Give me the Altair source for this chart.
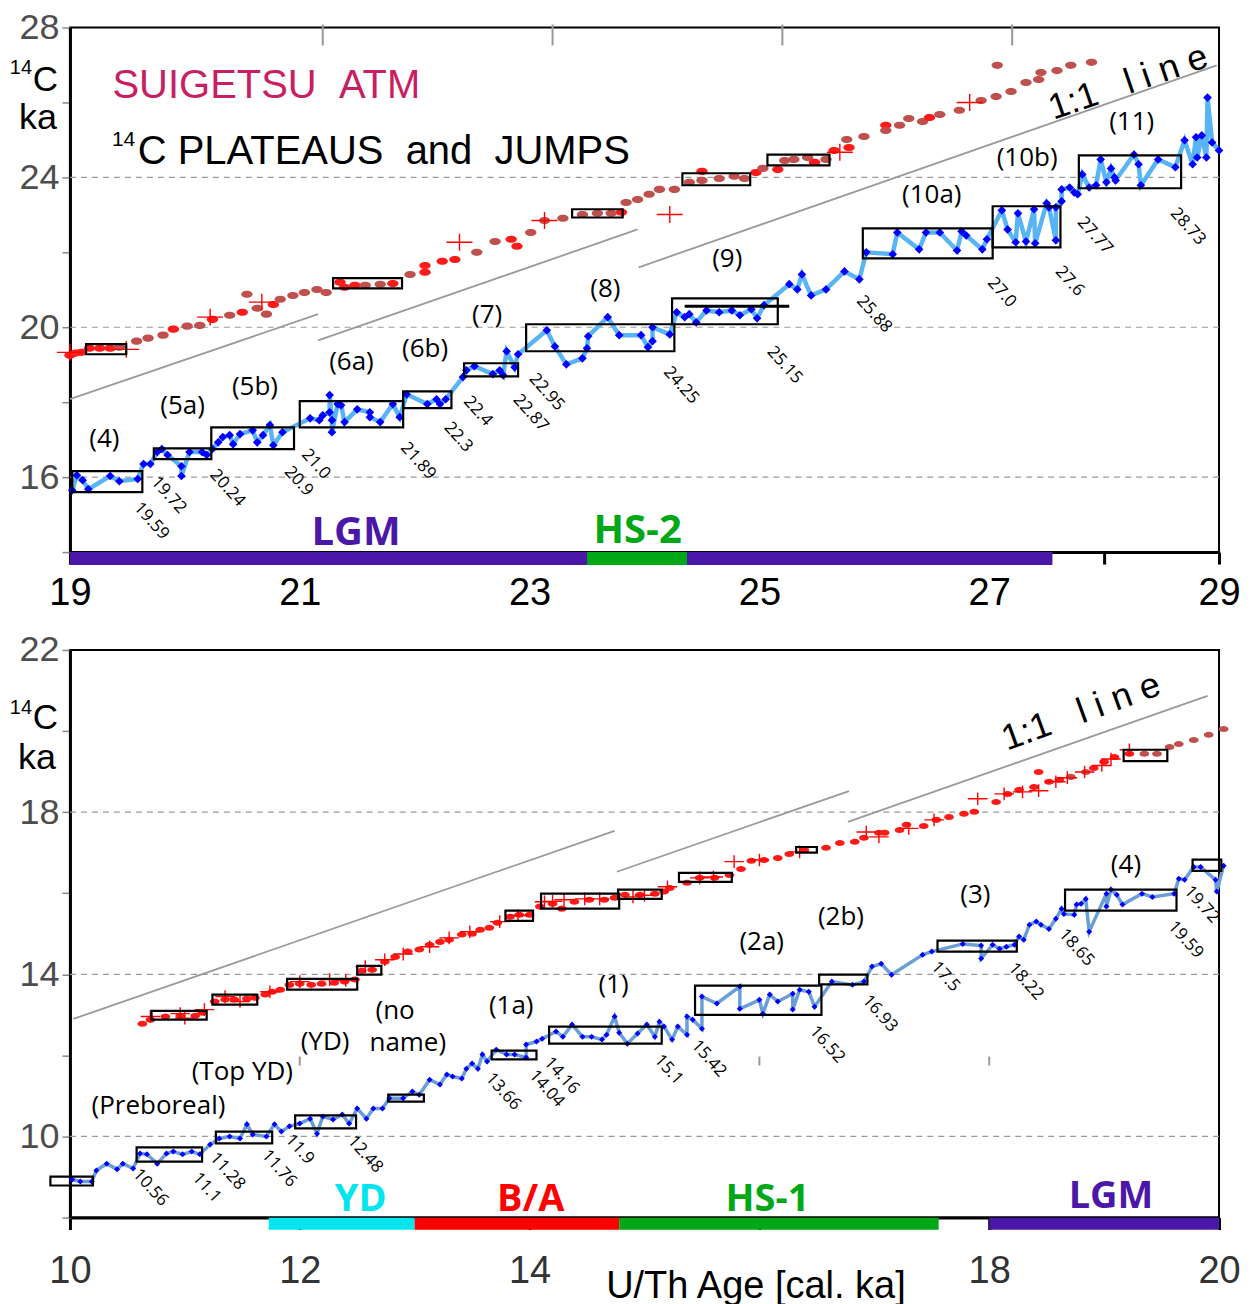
import altair as alt
import pandas as pd

SANS = "Liberation Sans"
OPEN = "Open Sans"
NB = "\u00a0"
RED = "#ff1a1a"
BROWN = "#c0504d"
PURPLE = "#4a17a8"
GREEN = "#00a817"

# ======================= TOP PANEL (19-29 cal ka) =======================
top_red_x = [19.00, 19.05, 19.10, 19.17, 19.26, 19.35, 19.43, 19.58, 19.68, 19.81,
             19.90, 20.02, 20.13, 20.24, 20.39, 20.50, 20.54, 20.63, 20.71, 20.77,
             20.83, 20.94, 21.04, 21.15, 21.23, 21.35, 21.39, 21.48, 21.57, 21.70,
             21.81, 21.96, 22.09, 22.09, 22.24, 22.35, 22.54, 22.70, 22.84, 22.89,
             23.01, 23.13, 23.29, 23.46, 23.59, 23.71, 23.80, 23.84, 23.94, 24.04,
             24.13, 24.26, 24.39, 24.50, 24.50, 24.65, 24.78, 24.87, 24.97, 25.03,
             25.16, 25.22, 25.30, 25.42, 25.48, 25.58, 25.65, 25.76, 25.78, 25.91,
             26.10, 26.10, 26.22, 26.30, 26.42, 26.48, 26.57, 26.74, 26.93, 27.06,
             27.07, 27.19, 27.32, 27.43, 27.45, 27.59, 27.71, 27.89]
top_red_y = [19.25, 19.31, 19.33, 19.44, 19.44, 19.44, 19.47, 19.63, 19.71, 19.79,
             19.95, 20.03, 20.05, 20.21, 20.32, 20.40, 20.88, 20.51, 20.35, 20.61,
             20.75, 20.85, 20.93, 21.01, 20.93, 21.20, 21.07, 21.12, 21.12, 21.15,
             21.17, 21.41, 21.65, 21.47, 21.76, 21.81, 22.00, 22.29, 22.35, 22.16,
             22.53, 22.85, 22.91, 23.01, 23.04, 23.04, 23.07, 23.33, 23.41, 23.55,
             23.68, 23.68, 23.87, 24.16, 23.92, 23.97, 24.03, 23.97, 24.13, 24.24,
             24.21, 24.45, 24.48, 24.53, 24.40, 24.48, 24.72, 25.01, 24.80, 25.09,
             25.39, 25.25, 25.39, 25.57, 25.49, 25.60, 25.68, 25.79, 26.05, 26.16,
             26.99, 26.29, 26.53, 26.61, 26.80, 26.85, 26.99, 27.07]
top_red_kind = list("rrrrrrbbbb" "rbbrbrbbbr" "bbbbbrrrbb" "rbrrrrbbrr" "bbbbbbrbbb"
                    "bbbrbbbbrb" "rbbbrbrbrb" "rbbbbrbbbb" "bbbbbbbb")

top_cross_x = [19.00, 19.49, 20.22, 20.67, 22.39, 23.13, 24.22, 25.70, 26.83]
top_cross_y = [19.33, 19.41, 20.27, 20.67, 22.27, 22.85, 23.01, 24.67, 26.00]

top_blue_x = [19.02, 19.06, 19.11, 19.16, 19.35, 19.43, 19.59, 19.64, 19.70, 19.76,
              19.80, 19.85, 19.97, 19.97, 20.04, 20.15, 20.19, 20.24, 20.29, 20.33,
              20.39, 20.42, 20.48, 20.59, 20.63, 20.68, 20.74, 20.77, 20.85, 21.09,
              21.17, 21.20, 21.26, 21.26, 21.28, 21.28, 21.33, 21.36, 21.39, 21.50,
              21.61, 21.61, 21.70, 21.81, 21.87, 21.93, 22.11, 22.19, 22.22, 22.27,
              22.42, 22.45, 22.52, 22.68, 22.74, 22.77, 22.80, 22.87, 22.90, 23.15,
              23.22, 23.32, 23.46, 23.50, 23.51, 23.68, 23.78, 23.97, 24.03, 24.07,
              24.07, 24.22, 24.28, 24.35, 24.39, 24.45, 24.54, 24.65, 24.76, 24.83,
              24.93, 24.98, 25.04, 25.26, 25.33, 25.37, 25.45, 25.58, 25.74, 25.87,
              25.93, 26.16, 26.20, 26.39, 26.45, 26.57, 26.72, 26.76, 26.80, 26.94,
              26.98, 27.11, 27.16, 27.23, 27.25, 27.32, 27.39, 27.40, 27.50, 27.52,
              27.58, 27.58, 27.63, 27.63, 27.70, 27.74, 27.77, 27.81, 27.87, 27.93,
              27.97, 28.02, 28.06, 28.09, 28.10, 28.26, 28.30, 28.32, 28.47, 28.62,
              28.70, 28.77, 28.80, 28.81, 28.85, 28.89, 28.90, 28.94, 29.00]
top_blue_y = [15.65, 16.05, 15.92, 15.68, 16.03, 15.89, 15.95, 16.35, 16.35, 16.67,
              16.75, 16.59, 16.29, 16.03, 16.67, 16.67, 16.59, 16.75, 16.93, 17.07,
              17.12, 16.88, 17.15, 17.25, 16.93, 17.12, 17.39, 16.85, 17.20, 17.57,
              17.52, 17.65, 17.73, 18.19, 17.52, 17.20, 17.95, 17.92, 17.47, 17.81,
              17.73, 17.60, 17.47, 17.95, 17.60, 18.21, 17.95, 18.08, 17.95, 18.08,
              18.67, 18.85, 18.96, 18.75, 18.85, 18.72, 19.36, 18.93, 19.28, 19.92,
              19.49, 19.01, 19.17, 19.44, 19.76, 20.27, 19.79, 19.79, 19.47, 19.63,
              20.00, 19.81, 20.40, 20.27, 20.35, 20.13, 20.45, 20.40, 20.45, 20.32,
              20.48, 20.24, 20.59, 21.15, 21.01, 21.41, 20.85, 21.01, 21.49, 21.28,
              22.00, 21.95, 22.53, 22.08, 22.53, 22.53, 22.05, 22.56, 22.45, 22.08,
              22.35, 23.12, 22.61, 22.27, 23.04, 22.29, 23.15, 22.24, 23.31, 23.20,
              22.32, 23.20, 23.36, 23.68, 23.73, 23.60, 23.55, 24.08, 23.73, 23.79,
              24.48, 23.87, 24.24, 24.00, 23.92, 24.61, 24.35, 23.79, 24.48, 24.27,
              24.99, 24.35, 25.07, 24.53, 25.12, 24.53, 26.13, 24.93, 24.72]

top_box_x1 = [19.14, 21.29, 23.37, 24.33, 25.07,
              19.02, 19.73, 20.23, 21.00, 21.90, 22.43, 22.97, 24.24, 25.90, 27.03, 27.78]
top_box_x2 = [19.49, 21.89, 23.81, 24.92, 25.61,
              19.63, 20.23, 20.95, 21.90, 22.32, 22.90, 24.26, 25.16, 27.03, 27.62, 28.67]
top_box_y1 = [19.28, 21.04, 22.93, 23.79, 24.32,
              15.60, 16.48, 16.75, 17.33, 17.84, 18.69, 19.36, 20.08, 21.84, 22.13, 23.71]
top_box_y2 = [19.55, 21.31, 23.15, 24.11, 24.61,
              16.16, 16.77, 17.33, 18.03, 18.29, 19.04, 20.08, 20.77, 22.64, 23.23, 24.59]

top_bar_x1 = [24.35]
top_bar_x2 = [25.26]
top_bar_y = [20.56]

top_plateau_text = ["(4)", "(5a)", "(5b)", "(6a)", "(6b)", "(7)", "(8)", "(9)", "(10a)", "(10b)", "(11)"]
top_plateau_x = [19.30, 19.98, 20.61, 21.45, 22.09, 22.63, 23.66, 24.72, 26.50, 27.33, 28.24]
top_plateau_y = [17.01, 17.89, 18.40, 19.07, 19.41, 20.32, 21.01, 21.81, 23.52, 24.53, 25.47]

top_num_text = ["19.59", "19.72", "20.24", "20.9", "21.0", "21.89", "22.3", "22.4", "22.87",
                "22.95", "24.25", "25.15", "25.88", "27.0", "27.6", "27.77", "28.73"]
top_num_x = [19.71, 19.86, 20.37, 20.99, 21.14, 22.03, 22.38, 22.55, 23.01,
             23.15, 24.32, 25.22, 26.00, 27.11, 27.70, 27.92, 28.73]
top_num_y = [14.83, 15.52, 15.71, 15.89, 16.35, 16.43, 17.07, 17.76, 17.71,
             18.27, 18.45, 18.99, 20.35, 20.93, 21.23, 22.45, 22.69]

top_period_name = ["LGM", "HS-2"]
top_period_x1 = [19.00, 23.50]
top_period_x2 = [27.55, 24.37]
top_period_color = [PURPLE, GREEN]
top_period_label_x = [21.49, 23.94]
top_period_label_y = [14.20, 14.24]

top_line_x1 = [19.00, 21.16, 23.95]
top_line_y1 = [18.08, 19.65, 21.60]
top_line_x2 = [21.16, 23.94, 28.98]
top_line_y2 = [20.35, 22.61, 26.99]

top_grid = [16, 20, 24]
top_minor_x = [21.2, 23.2, 25.2, 27.2]

# ======================= BOTTOM PANEL (10-20 cal ka) =======================
bot_red_x = [10.63, 10.70, 10.83, 10.96, 11.09, 11.15, 11.26, 11.35, 11.43, 11.54,
             11.61, 11.70, 11.76, 11.83, 11.91, 12.00, 12.10, 12.19, 12.30, 12.39,
             12.48, 12.54, 12.63, 12.74, 12.83, 12.94, 13.04, 13.13, 13.22, 13.30,
             13.41, 13.50, 13.57, 13.65, 13.72, 13.83, 13.91, 14.00, 14.09, 14.20,
             14.28, 14.39, 14.52, 14.65, 14.74, 14.83, 14.96, 15.09, 15.17, 15.22,
             15.37, 15.48, 15.61, 15.74, 15.84, 15.93, 16.04, 16.16, 16.26, 16.39,
             16.58, 16.70, 16.83, 16.91, 17.04, 17.09, 17.22, 17.28, 17.43, 17.54,
             17.65, 17.78, 17.87, 18.06, 18.16, 18.26, 18.39, 18.43, 18.52, 18.61,
             18.71, 18.84, 18.91, 19.00, 19.09, 19.22, 19.35, 19.46, 19.57, 19.65,
             19.78, 19.91, 20.04]
bot_red_y = [12.78, 12.88, 12.96, 12.98, 12.98, 13.05, 13.33, 13.38, 13.38, 13.40,
             13.42, 13.50, 13.57, 13.62, 13.74, 13.77, 13.74, 13.77, 13.79, 13.82,
             13.87, 14.09, 14.11, 14.31, 14.43, 14.56, 14.61, 14.73, 14.80, 14.85,
             14.98, 15.00, 15.10, 15.15, 15.27, 15.42, 15.47, 15.47, 15.67, 15.74,
             15.62, 15.79, 15.84, 15.84, 15.89, 15.96, 15.96, 15.99, 16.04, 16.13,
             16.26, 16.38, 16.38, 16.45, 16.60, 16.80, 16.82, 16.87, 16.97, 17.07,
             17.12, 17.24, 17.27, 17.37, 17.49, 17.49, 17.56, 17.69, 17.66, 17.81,
             17.88, 17.96, 18.01, 18.25, 18.45, 18.55, 18.62, 18.99, 18.75, 18.80,
             18.87, 18.99, 19.09, 19.24, 19.36, 19.44, 19.44, 19.44, 19.61, 19.68,
             19.78, 19.91, 20.05]
bot_red_kind = list("r" * 80 + "bbrrrr" + "bbbbbbb")

bot_cross_x = [10.70, 10.96, 11.00, 11.17, 11.35, 11.48, 11.74, 12.00, 12.26, 12.40,
               12.57, 12.74, 12.90, 13.13, 13.30, 13.48, 13.74, 13.90, 14.13, 14.20,
               14.30, 14.48, 14.61, 14.90, 15.00, 15.20, 15.48, 15.60, 15.78, 16.00,
               16.35, 16.93, 17.04, 17.30, 17.52, 17.90, 18.13, 18.29, 18.43, 18.58,
               18.68, 18.83, 18.98, 19.06, 19.22]
bot_cross_y = [12.96, 13.03, 12.92, 13.13, 13.45, 13.33, 13.57, 13.82, 13.87, 13.85,
               14.19, 14.36, 14.50, 14.68, 14.90, 15.05, 15.30, 15.45, 15.79, 15.80,
               15.84, 15.86, 15.86, 15.91, 15.95, 16.16, 16.38, 16.40, 16.78, 16.82,
               17.02, 17.51, 17.39, 17.60, 17.81, 18.33, 18.45, 18.50, 18.53, 18.75,
               18.85, 18.99, 19.15, 19.31, 19.54]

bot_blue_x = [10.02, 10.09, 10.19, 10.23, 10.32, 10.41, 10.46, 10.55, 10.61, 10.67,
              10.76, 10.84, 10.90, 10.98, 11.06, 11.13, 11.22, 11.30, 11.39, 11.48,
              11.54, 11.59, 11.71, 11.78, 11.84, 11.91, 12.00, 12.09, 12.15, 12.20,
              12.29, 12.37, 12.43, 12.50, 12.58, 12.64, 12.72, 12.78, 12.90, 12.98,
              13.04, 13.13, 13.22, 13.28, 13.33, 13.41, 13.45, 13.50, 13.55, 13.59,
              13.63, 13.71, 13.80, 13.87, 13.97, 13.97, 14.06, 14.11, 14.23, 14.29,
              14.37, 14.46, 14.54, 14.63, 14.67, 14.74, 14.78, 14.85, 14.94, 15.02,
              15.09, 15.13, 15.17, 15.24, 15.29, 15.37, 15.37, 15.42, 15.50, 15.50,
              15.63, 15.83, 15.83, 16.00, 16.03, 16.09, 16.16, 16.29, 16.29, 16.35,
              16.43, 16.48, 16.63, 16.81, 16.91, 16.98, 17.06, 17.15, 17.42, 17.50,
              17.77, 17.93, 17.93, 18.03, 18.09, 18.15, 18.22, 18.26, 18.30, 18.35,
              18.41, 18.45, 18.52, 18.58, 18.63, 18.65, 18.74, 18.76, 18.80, 18.84,
              18.87, 19.02, 19.02, 19.06, 19.11, 19.16, 19.33, 19.42, 19.61, 19.65,
              19.70, 19.78, 19.84, 19.97, 19.98, 20.04]
bot_blue_y = [8.94, 8.89, 8.89, 9.16, 9.33, 9.19, 9.33, 9.21, 9.58, 9.56,
              9.33, 9.58, 9.63, 9.56, 9.63, 9.56, 9.80, 9.95, 10.00, 9.95,
              10.30, 10.05, 10.00, 10.30, 10.12, 10.25, 10.32, 10.44, 10.07, 10.49,
              10.42, 10.54, 10.32, 10.69, 10.44, 10.69, 10.69, 10.94, 10.94, 11.11,
              11.03, 11.40, 11.28, 11.53, 11.48, 11.43, 11.67, 11.80, 11.67, 12.02,
              11.85, 12.14, 12.02, 12.02, 11.95, 12.27, 12.34, 12.41, 12.59, 12.46,
              12.76, 12.46, 12.46, 12.39, 12.51, 12.96, 12.56, 12.29, 12.54, 12.76,
              12.46, 12.83, 12.71, 12.39, 12.71, 12.51, 12.96, 12.88, 12.66, 13.45,
              13.28, 13.70, 13.15, 13.37, 13.03, 13.50, 13.33, 13.52, 13.13, 13.62,
              13.57, 13.20, 13.82, 13.74, 13.82, 14.19, 14.26, 13.99, 14.48, 14.56,
              14.75, 14.71, 14.39, 14.73, 14.63, 14.68, 14.73, 14.93, 14.85, 15.22,
              15.30, 15.22, 15.12, 15.37, 15.62, 15.49, 15.47, 15.72, 15.74, 15.86,
              15.05, 15.99, 15.67, 16.09, 15.96, 15.72, 15.99, 15.91, 15.99, 16.36,
              16.33, 16.65, 16.65, 16.33, 16.04, 16.68]

bot_box_x1 = [10.71, 11.24, 11.89, 12.50, 13.79, 14.10, 14.77, 15.30, 16.32, 19.17,
              9.83, 10.58, 11.27, 11.96, 12.77, 13.67, 14.17, 15.44, 16.52, 17.55, 18.66, 19.77]
bot_box_x2 = [11.19, 11.63, 12.50, 12.71, 14.03, 14.78, 15.15, 15.76, 16.50, 19.55,
              10.20, 11.15, 11.76, 12.49, 13.08, 14.06, 15.15, 16.54, 16.94, 18.24, 19.63, 20.02]
bot_box_y1 = [12.88, 13.25, 13.62, 13.99, 15.32, 15.62, 15.86, 16.28, 17.00, 19.26,
              8.79, 9.38, 9.83, 10.20, 10.86, 11.90, 12.29, 13.00, 13.75, 14.56, 15.57, 16.55]
bot_box_y2 = [13.10, 13.50, 13.89, 14.21, 15.57, 15.99, 16.09, 16.50, 17.14, 19.54,
              9.01, 9.73, 10.12, 10.52, 11.03, 12.12, 12.71, 13.72, 13.99, 14.83, 16.09, 16.83]

bot_plateau_text = ["(Preboreal)", "(Top YD)", "(YD)", "(no", "name)", "(1a)", "(1)",
                    "(2a)", "(2b)", "(3)", "(4)"]
bot_plateau_x = [10.77, 11.50, 12.22, 12.83, 12.94, 13.84, 14.73, 16.02, 16.71, 17.88, 19.19]
bot_plateau_y = [10.75, 11.59, 12.34, 13.10, 12.30, 13.21, 13.74, 14.80, 15.42, 15.96, 16.70]

bot_num_text = ["10.56", "11.1", "11.28", "11.76", "11.9", "12.48", "13.66", "14.04", "14.16",
                "15.1", "15.42", "16.52", "16.93", "17.5", "18.22", "18.65", "19.59", "19.72"]
bot_num_x = [10.70, 11.19, 11.37, 11.82, 12.00, 12.57, 13.77, 14.15, 14.28,
             15.21, 15.56, 16.59, 17.05, 17.62, 18.32, 18.76, 19.71, 19.85]
bot_num_y = [8.74, 8.74, 9.14, 9.21, 9.68, 9.56, 11.11, 11.18, 11.50,
             11.65, 11.92, 12.27, 13.03, 13.94, 13.82, 14.66, 14.85, 15.72]

bot_period_name = ["YD", "B/A", "HS-1", "LGM"]
bot_period_x1 = [11.73, 13.00, 14.78, 18.00]
bot_period_x2 = [13.00, 14.78, 17.56, 20.00]
bot_period_color = ["#00e5ee", "#ff0000", GREEN, PURPLE]
bot_period_label_x = [12.53, 14.01, 16.07, 19.06]
bot_period_label_y = [8.17, 8.17, 8.17, 8.24]

bot_line_x1 = [10.03, 14.76, 16.77]
bot_line_y1 = [12.90, 16.53, 17.76]
bot_line_x2 = [14.74, 16.78, 19.90]
bot_line_y2 = [17.54, 18.52, 20.87]

bot_grid = [10, 14, 18]
bot_minor_x = [12.0, 16.0, 18.0]

ELLIPSE = "M-1,0A1,0.62,0,1,1,1,0A1,0.62,0,1,1,-1,0Z"
PLUS = "M-1,0L1,0M0,-0.65L0,0.65"


def frame(**cols):
    n = min(len(v) for v in cols.values())
    return pd.DataFrame({k: list(v)[:n] for k, v in cols.items()})


def build_panel(p):
    xs = alt.Scale(domain=p["xdom"], nice=False, zero=False)
    ys = alt.Scale(domain=p["ydom"], nice=False, zero=False)
    xax = alt.Axis(values=p["xticks"], labelExpr=p["xexpr"], format="d", title=None, grid=False,
                   labelFontSize=38, labelFont=SANS, labelColor=p["xlabcolor"], labelFlush=False,
                   labelPadding=p["xlabpad"], labelOverlap=False, tickSize=12, tickWidth=3,
                   tickColor="black", domainColor="black", domainWidth=3)
    yax = alt.Axis(values=p["yticks"], labelExpr=p["yexpr"], format="d", title=None, grid=False,
                   labelFontSize=36, labelFont=SANS, labelColor="#4d4d4d", labelPadding=3,
                   labelOverlap=False, tickSize=8, tickWidth=1.5, tickColor="#888888",
                   domainColor="black", domainWidth=3)

    def X(f):
        return alt.X(f"{f}:Q", scale=xs, axis=xax)

    def Y(f):
        return alt.Y(f"{f}:Q", scale=ys, axis=yax)

    L = []
    L.append(alt.Chart(frame(y=p["grid"])).mark_rule(color="#9a9a9a", strokeDash=[6, 5], strokeWidth=1.2)
             .encode(y=Y("y")))
    L.append(alt.Chart(frame(x=p["minor_x"], y=[p["minor_y"][0]] * len(p["minor_x"]),
                             y2=[p["minor_y"][1]] * len(p["minor_x"])))
             .mark_rule(color="#999999", strokeWidth=2)
             .encode(x=X("x"), y=Y("y"), y2="y2"))
    L.append(alt.Chart(frame(x1=p["lx1"], y1=p["ly1"], x2=p["lx2"], y2=p["ly2"]))
             .mark_rule(color="#9a9a9a", strokeWidth=1.8)
             .encode(x=X("x1"), y=Y("y1"), x2="x2", y2="y2"))
    L.append(alt.Chart(frame(x=p["red_x"], y=p["red_y"], k=p["red_k"]))
             .mark_point(shape=ELLIPSE, filled=True, size=p["red_size"], opacity=1, strokeWidth=0)
             .encode(x=X("x"), y=Y("y"),
                     color=alt.Color("k:N", scale=alt.Scale(domain=["r", "b"], range=[RED, BROWN]),
                                     legend=None)))
    L.append(alt.Chart(frame(x=p["cross_x"], y=p["cross_y"]))
             .mark_point(shape=PLUS, filled=False, size=p["cross_size"], opacity=1,
                         strokeWidth=1.4, color="#ff0000")
             .encode(x=X("x"), y=Y("y")))
    L.append(alt.Chart(frame(x=p["blue_x"], y=p["blue_y"], i=list(range(len(p["blue_x"])))))
             .mark_line(color=p["line_color"], strokeWidth=p["line_width"])
             .encode(x=X("x"), y=Y("y"), order=alt.Order("i:Q")))
    L.append(alt.Chart(frame(x=p["blue_x"], y=p["blue_y"]))
             .mark_point(shape="diamond", filled=True, size=p["dia_size"], opacity=1, color="#0000ff")
             .encode(x=X("x"), y=Y("y")))
    L.append(alt.Chart(frame(x1=p["bx1"], x2=p["bx2"], y1=p["by1"], y2=p["by2"]))
             .mark_rect(fillOpacity=0, stroke="black", strokeWidth=2.2)
             .encode(x=X("x1"), x2="x2", y=Y("y1"), y2="y2"))
    if p.get("bar_x1"):
        L.append(alt.Chart(frame(x1=p["bar_x1"], x2=p["bar_x2"], y=p["bar_y"]))
                 .mark_rule(color="black", strokeWidth=3)
                 .encode(x=X("x1"), x2="x2", y=Y("y")))
    L.append(alt.Chart(frame(x1=p["per_x1"], x2=p["per_x2"], c=p["per_c"],
                             y=[p["per_y"]] * len(p["per_x1"])))
             .mark_rule(strokeWidth=p["per_w"], strokeCap="butt")
             .encode(x=X("x1"), x2="x2", y=Y("y"), color=alt.Color("c:N", scale=None)))
    # texts
    L.append(alt.Chart(frame(x=p["pl_x"], y=p["pl_y"], t=p["pl_t"]))
             .mark_text(font=OPEN, fontSize=26, color="black", align="center", baseline="middle")
             .encode(x=X("x"), y=Y("y"), text="t:N"))
    L.append(alt.Chart(frame(x=p["nm_x"], y=p["nm_y"], t=p["nm_t"]))
             .mark_text(font=OPEN, fontSize=17, color="black", align="center", baseline="middle",
                        angle=48)
             .encode(x=X("x"), y=Y("y"), text="t:N"))
    L.append(alt.Chart(frame(x=p["per_lx"], y=p["per_ly"], t=p["per_n"], c=p["per_c"]))
             .mark_text(font=OPEN, fontWeight="bold", fontSize=p["per_fs"], align="center",
                        baseline="alphabetic")
             .encode(x=X("x"), y=Y("y"), text="t:N", color=alt.Color("c:N", scale=None)))
    for t in p["texts"]:
        kw = dict(font=t.get("font", SANS), fontSize=t["fs"], color=t.get("color", "black"),
                  align=t.get("align", "left"), baseline=t.get("baseline", "alphabetic"))
        if "angle" in t:
            kw["angle"] = t["angle"]
        L.append(alt.Chart(frame(x=[t["x"]], y=[t["y"]], t=[t["t"]]))
                 .mark_text(**kw)
                 .encode(x=X("x"), y=Y("y"), text="t:N"))
    return alt.layer(*L).properties(width=1150, height=p["h"])


top_texts = [
    dict(t="SUIGETSU" + NB + NB + "ATM", x=19.37, y=26.13, fs=40, color="#c81e64"),
    dict(t="14", x=19.365, y=24.85, fs=21),
    dict(t="C PLATEAUS" + NB + NB + "and" + NB + NB + "JUMPS", x=19.59, y=24.35, fs=40),
    dict(t="14", x=18.67, y=26.75, fs=20, align="right"),
    dict(t="C", x=18.896, y=26.31, fs=35, align="right"),
    dict(t="ka", x=18.887, y=25.30, fs=36, align="right"),
    dict(t="1:1" + NB * 3 + "l" + NB + "i" + NB + "n" + NB + "e", x=28.21, y=26.53, fs=36,
         align="center", baseline="middle", angle=341),
]

bot_texts = [
    dict(t="14", x=9.670, y=20.42, fs=20, align="right"),
    dict(t="C", x=9.896, y=20.05, fs=35, align="right"),
    dict(t="ka", x=9.878, y=19.07, fs=36, align="right"),
    dict(t="1:1" + NB * 3 + "l" + NB + "i" + NB + "n" + NB + "e", x=18.80, y=20.47, fs=36,
         align="center", baseline="middle", angle=340),
    dict(t="U/Th Age [cal. ka]", x=15.97, y=6.02, fs=38, align="center"),
]

top_spec = dict(
    xdom=[19, 29], ydom=[14, 28], h=525,
    xticks=[19, 21, 23, 25, 27, 28, 29], xexpr="datum.value == 28 ? '' : datum.label",
    yticks=[14, 16, 18, 20, 22, 24, 26, 28], yexpr="datum.value % 4 == 0 ? datum.label : ''",
    xlabcolor="black", xlabpad=10,
    grid=top_grid, minor_x=top_minor_x, minor_y=[28.08, 27.52],
    lx1=top_line_x1, ly1=top_line_y1, lx2=top_line_x2, ly2=top_line_y2,
    red_x=top_red_x, red_y=top_red_y, red_k=top_red_kind, red_size=130,
    cross_x=top_cross_x, cross_y=top_cross_y, cross_size=676,
    blue_x=top_blue_x, blue_y=top_blue_y, line_color="#58b4f4", line_width=4.5, dia_size=75,
    bx1=top_box_x1, bx2=top_box_x2, by1=top_box_y1, by2=top_box_y2,
    bar_x1=top_bar_x1, bar_x2=top_bar_x2, bar_y=top_bar_y,
    per_x1=top_period_x1, per_x2=top_period_x2, per_c=top_period_color, per_y=13.83, per_w=13,
    per_lx=top_period_label_x, per_ly=top_period_label_y, per_n=top_period_name, per_fs=40,
    pl_x=top_plateau_x, pl_y=top_plateau_y, pl_t=top_plateau_text,
    nm_x=top_num_x, nm_y=top_num_y, nm_t=top_num_text,
    texts=top_texts,
)

bot_spec = dict(
    xdom=[10, 20], ydom=[8, 22], h=568,
    xticks=[10, 12, 14, 16, 18, 20], xexpr="datum.value == 16 ? '' : datum.label",
    yticks=[8, 10, 12, 14, 16, 18, 20, 22], yexpr="datum.value % 4 == 2 ? datum.label : ''",
    xlabcolor="#333333", xlabpad=23,
    grid=bot_grid, minor_x=bot_minor_x, minor_y=[11.97, 11.75],
    lx1=bot_line_x1, ly1=bot_line_y1, lx2=bot_line_x2, ly2=bot_line_y2,
    red_x=bot_red_x, red_y=bot_red_y, red_k=bot_red_kind, red_size=95,
    cross_x=bot_cross_x, cross_y=bot_cross_y, cross_size=380,
    blue_x=bot_blue_x, blue_y=bot_blue_y, line_color="#6a9ed6", line_width=3.5, dia_size=36,
    bx1=bot_box_x1, bx2=bot_box_x2, by1=bot_box_y1, by2=bot_box_y2,
    per_x1=bot_period_x1, per_x2=bot_period_x2, per_c=bot_period_color, per_y=7.85, per_w=12,
    per_lx=bot_period_label_x, per_ly=bot_period_label_y, per_n=bot_period_name, per_fs=38,
    pl_x=bot_plateau_x, pl_y=bot_plateau_y, pl_t=bot_plateau_text,
    nm_x=bot_num_x, nm_y=bot_num_y, nm_t=bot_num_text,
    texts=bot_texts,
)

top = build_panel(top_spec)
bot = build_panel(bot_spec)

chart = (
    alt.vconcat(top, bot, spacing=98, bounds="flush")
    .properties(padding={"left": 0, "top": 0, "right": 5, "bottom": 2})
    .configure_view(stroke="black", strokeWidth=2)
)

chart.save("out.html", embed_options={"renderer": "svg", "actions": False})
